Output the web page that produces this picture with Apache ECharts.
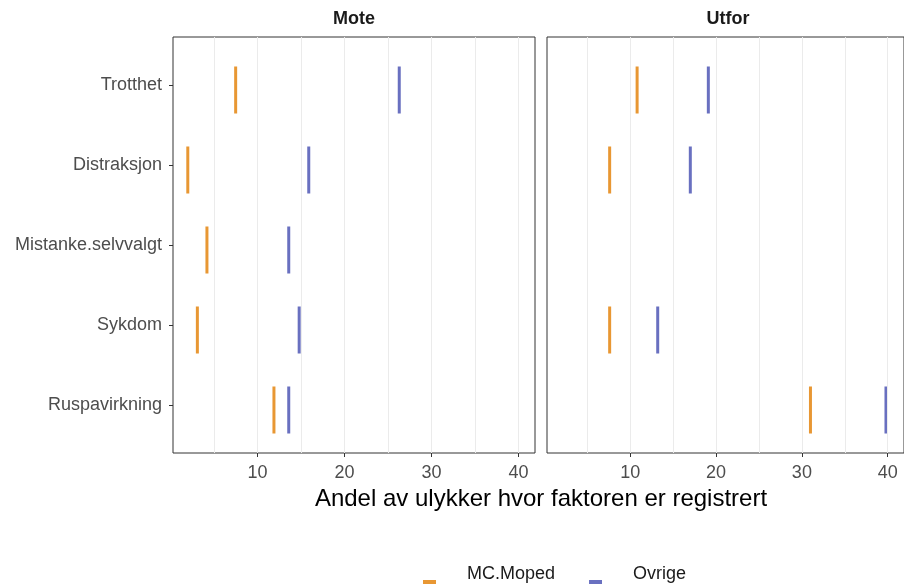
<!DOCTYPE html>
<html>
<head>
<meta charset="utf-8">
<script src="https://cdn.jsdelivr.net/npm/echarts@6/dist/echarts.min.js"></script>
<style>
  html, body { margin: 0; padding: 0; background: #fff; }
  #main { width: 904px; height: 585px; }
</style>
</head>
<body>
<div id="main"></div>
<script>
// faktorer, ovenfra og ned
var categories = ['Trotthet', 'Distraksjon', 'Mistanke.selvvalgt', 'Sykdom', 'Ruspavirkning'];
var panels = ['Mote', 'Utfor'];
var xTicks = [10, 20, 30, 40];
var xGrid = [5, 10, 15, 20, 25, 30, 35, 40];

// andel (%) per faktor
var moteMoped = [7.5, 2.0, 4.2, 3.1, 11.9];
var moteOvrige = [26.3, 15.9, 13.6, 14.8, 13.6];
var utforMoped = [10.8, 7.6, null, 7.6, 31.0];
var utforOvrige = [19.1, 17.0, null, 13.2, 39.8];

var FONT = '"Liberation Sans", Arial, sans-serif';
var ORANGE = '#E27D00';
var BLUE = '#444CB0';
// kort strek nederst i en bredere boks, som i ggplot-legenden
var LEGEND_ICON = 'path://M0,0 M39,0 M0,16 L13,16 L13,20 L0,20 Z';

var chart = echarts.init(document.getElementById('main'), null, { renderer: 'canvas' });

function toPoints(values) {
	var out = [];
	values.forEach(function (v, i) {
		if (v !== null) out.push([v, i + 1]);
	});
	return out;
}

function xAxisFor(gridIndex) {
	return {
		type: 'value',
		gridIndex: gridIndex,
		min: 0.3,
		max: 41.9,
		axisLine: { show: false },
		axisTick: { show: true, customValues: xTicks, length: 4, lineStyle: { color: '#333' } },
		axisLabel: { customValues: xTicks, fontSize: 18, color: '#4D4D4D', fontFamily: FONT, margin: 11 },
		splitLine: { show: false }
	};
}

function yAxisFor(gridIndex, showLabels) {
	return {
		type: 'value',
		gridIndex: gridIndex,
		min: 0.4,
		max: 5.6,
		inverse: true,
		axisLine: { show: false },
		axisTick: { show: showLabels, customValues: [1, 2, 3, 4, 5], length: 4, lineStyle: { color: '#333' } },
		axisLabel: {
			show: showLabels,
			customValues: [1, 2, 3, 4, 5],
			formatter: function (v) { return categories[v - 1]; },
			fontSize: 18,
			color: '#4D4D4D',
			fontFamily: FONT,
			margin: 11
		},
		splitLine: { show: false }
	};
}

// vertikale rutenettlinjer ved hver 5.
function gridSeries(idx) {
	return {
		type: 'line',
		xAxisIndex: idx,
		yAxisIndex: idx,
		data: [],
		silent: true,
		z: 1,
		markLine: {
			silent: true,
			symbol: 'none',
			label: { show: false },
			lineStyle: { color: '#EBEBEB', width: 1, type: 'solid' },
			emphasis: { disabled: true },
			data: xGrid.map(function (v) { return { xAxis: v }; })
		}
	};
}

function markSeries(name, values, color, idx) {
	return {
		name: name,
		type: 'scatter',
		xAxisIndex: idx,
		yAxisIndex: idx,
		z: 3,
		symbol: 'rect',
		symbolSize: [3, 47],
		symbolOffset: [0, 5],
		itemStyle: { color: color },
		data: toPoints(values)
	};
}

var option = {
	animation: false,
	backgroundColor: '#fff',
	textStyle: { fontFamily: FONT },
	grid: [
		{ left: 173, top: 37, width: 362, height: 416, show: true, borderColor: '#333', borderWidth: 1, backgroundColor: 'transparent' },
		{ left: 547, top: 37, width: 362, height: 416, show: true, borderColor: '#333', borderWidth: 1, backgroundColor: 'transparent' }
	],
	xAxis: [xAxisFor(0), xAxisFor(1)],
	yAxis: [yAxisFor(0, true), yAxisFor(1, false)],
	legend: {
		data: [
			{ name: 'MC.Moped', icon: LEGEND_ICON, itemStyle: { color: ORANGE } },
			{ name: 'Ovrige', icon: LEGEND_ICON, itemStyle: { color: BLUE } }
		],
		left: 418,
		top: 559,
		itemWidth: 39,
		itemHeight: 20,
		itemGap: 34,
		textStyle: { fontSize: 18, color: '#1A1A1A', fontFamily: FONT }
	},
	graphic: [
		{ type: 'text', x: 354, y: 19, style: { text: panels[0], font: 'bold 18px ' + FONT, fill: '#1A1A1A', textAlign: 'center', textVerticalAlign: 'middle' } },
		{ type: 'text', x: 728, y: 19, style: { text: panels[1], font: 'bold 18px ' + FONT, fill: '#1A1A1A', textAlign: 'center', textVerticalAlign: 'middle' } },
		{ type: 'text', x: 541, y: 499, style: { text: 'Andel av ulykker hvor faktoren er registrert', font: '24px ' + FONT, fill: '#000', textAlign: 'center', textVerticalAlign: 'middle' } }
	],
	series: [
		gridSeries(0),
		gridSeries(1),
		markSeries('MC.Moped', moteMoped, ORANGE, 0),
		markSeries('Ovrige', moteOvrige, BLUE, 0),
		markSeries('MC.Moped', utforMoped, ORANGE, 1),
		markSeries('Ovrige', utforOvrige, BLUE, 1)
	]
};

chart.setOption(option);
</script>
</body>
</html>
